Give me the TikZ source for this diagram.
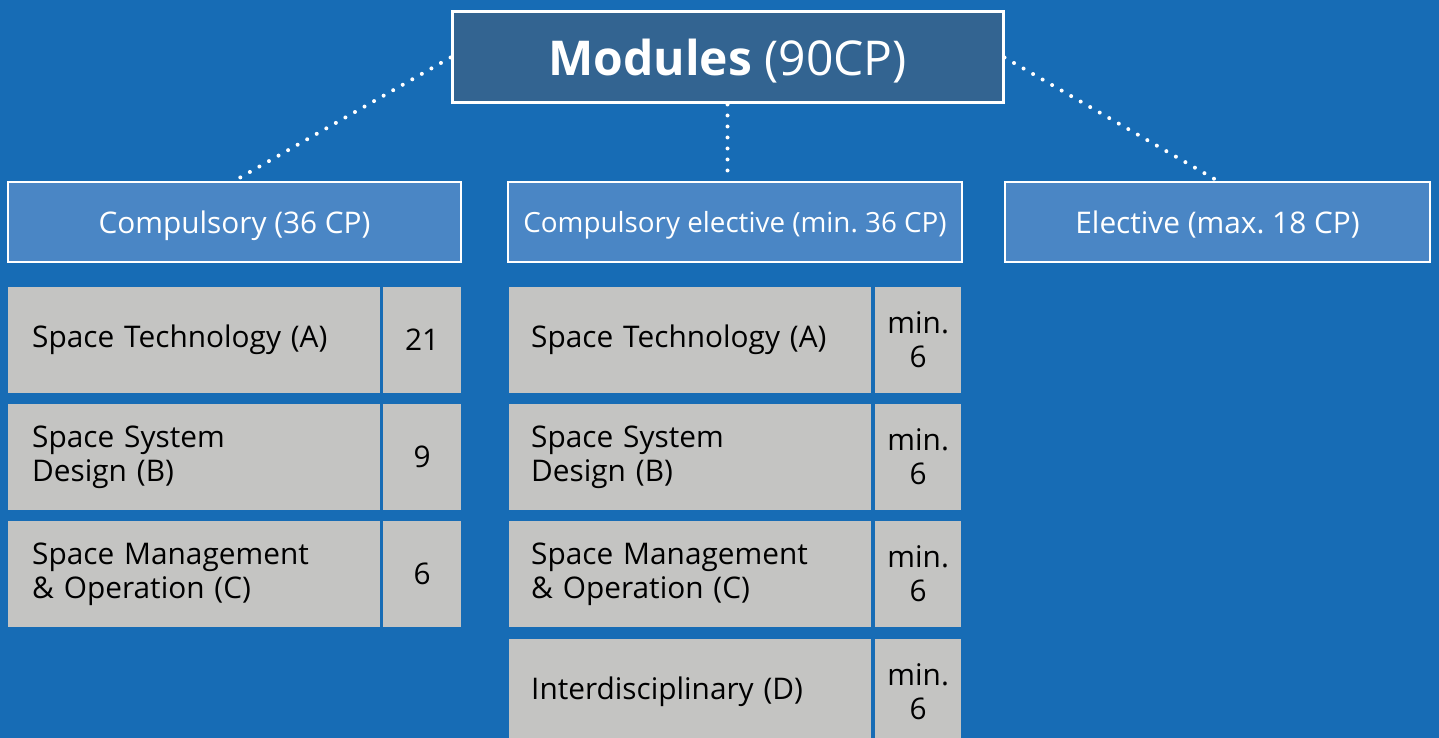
\documentclass[tikz,border=0pt]{standalone}
\usepackage{fontspec}
\setmainfont{Open Sans}
\usetikzlibrary{positioning}
\definecolor{bgblue}{HTML}{176CB5}
\definecolor{topblue}{HTML}{336491}
\definecolor{groupblue}{HTML}{4A86C5}
\definecolor{cellgrey}{HTML}{C4C4C2}
\tikzset{
    top/.style={draw=white, line width=3pt, fill=topblue, text=white, minimum width=551pt, minimum height=91pt, font=\fontsize{48}{56}\selectfont}, % the root box
    group/.style={draw=white, line width=2.5pt, fill=groupblue, text=white, minimum height=80pt, inner sep=0pt, text depth=0pt, font=\fontsize{29.8}{34}\selectfont},
    subject/.style={fill=cellgrey, anchor=north west, minimum height=106pt, inner xsep=24pt, align=left, font=\fontsize{29.8}{34}\selectfont},
    credits/.style={fill=cellgrey, anchor=north west, minimum height=106pt, inner sep=0pt, align=center, font=\fontsize{29.8}{34}\selectfont},
    link/.style={draw=white, line width=4pt, line cap=round, dash pattern=on 0pt off 11pt}, % dotted connectors
}
\begin{document}
\begin{tikzpicture}[x=1pt, y=-1pt]
    \fill[bgblue] (0,0) rectangle (1439,738);
    \useasboundingbox (0,0) rectangle (1439,738);

    \node[top, text depth=0pt] (modules) at (727.5,57.5) {\textbf{Modules} (90CP)};

    \node[group, minimum width=453pt] (comp) at (234.5,222) {Compulsory (36 CP)};
    \node[group, minimum width=454pt, font=\fontsize{27.8}{34}\selectfont] (compel) at (735,222) {Compulsory elective (min.\ 36 CP)};
    \node[group, minimum width=425pt] (elect) at (1217.5,222) {Elective (max.\ 18 CP)};

    \draw[link] (modules.west) -- (comp.north);
    \draw[link] (modules.south) -- (modules.south |- compel.north);
    \draw[link] (modules.east) -- (elect.north);

    % compulsory modules
    \foreach \y/\subj/\cp [count=\i] in {287/{Space Technology (A)}/21, 404/{Space System\\Design (B)}/9, 521/{Space Management\\\& Operation (C)}/6} {
        \node[subject, text width=324pt] (cs\i) at (8,\y) {\subj};
        \node[credits, minimum width=78pt] (cc\i) at (383,\y) {\cp};
    }

    % compulsory elective modules
    \foreach \y/\subj [count=\i] in {287/{Space Technology (A)}, 404/{Space System\\Design (B)}, 521/{Space Management\\\& Operation (C)}, 639/{Interdisciplinary (D)}} {
        \node[subject, text width=318pt, inner xsep=22pt] (es\i) at (509,\y) {\subj};
        \node[credits, minimum width=86pt] (ec\i) at (875,\y) {min.\\6};
    }
\end{tikzpicture}
\end{document}
